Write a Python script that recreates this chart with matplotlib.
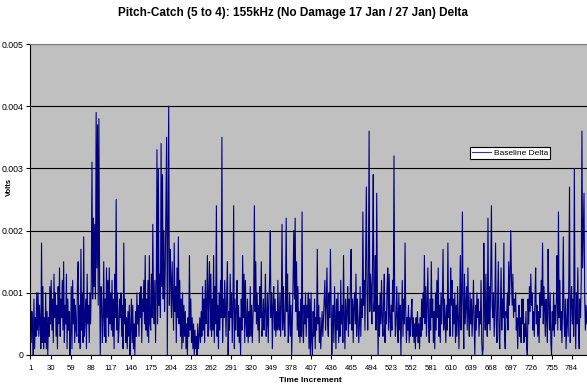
import numpy as np
import matplotlib
matplotlib.use('Agg')
from matplotlib import pyplot as plt

plt.rcParams['font.family'] = ['Liberation Sans', 'DejaVu Sans']

title = 'Pitch-Catch (5 to 4): 155kHz (No Damage 17 Jan / 27 Jan) Delta'
series_name = 'Baseline Delta'
x_title = 'Time Increment'
y_title = 'Volts'

# delta, in units of 1e-4 V, one row per 29 increments
baseline_delta_e4 = [
    8, 2, 7, 4, 0, 9, 1, 6, 3, 10, 4, 10, 3, 8, 5, 1, 18, 2, 11, 1, 6, 2, 10, 1, 7, 0, 6, 3, 11,
    5, 12, 4, 9, 2, 13, 6, 10, 3, 8, 1, 11, 5, 14, 3, 9, 6, 12, 4, 15, 2, 8, 5, 13, 1, 9, 4, 7, 0,
    3, 11, 1, 12, 5, 9, 2, 8, 4, 3, 12, 15, 2, 8, 1, 17, 4, 10, 2, 19, 3, 6, 9, 1, 13, 5, 8, 2, 10,
    5, 12, 31, 9, 22, 11, 21, 9, 39, 14, 37, 8, 38, 12, 0, 11, 9, 2, 6, 15, 3, 9, 2, 14, 6, 12, 3, 14, 5,
    10, 4, 12, 3, 9, 1, 13, 6, 25, 4, 10, 2, 4, 9, 6, 10, 3, 8, 1, 18, 5, 9, 2, 6, 1, 7, 3, 8, 0,
    4, 9, 2, 8, 1, 5, 0, 7, 3, 10, 5, 8, 3, 10, 6, 11, 2, 9, 7, 12, 5, 16, 4, 9, 3, 12, 2, 16, 5,
    4, 13, 6, 21, 9, 5, 12, 2, 10, 33, 5, 30, 8, 13, 6, 34, 11, 29, 9, 20, 7, 14, 25, 35, 0, 20, 40, 8, 17,
    12, 6, 15, 9, 4, 18, 7, 11, 2, 14, 6, 19, 5, 12, 3, 9, 1, 10, 2, 8, 3, 7, 1, 5, 0, 6, 3, 16, 4,
    9, 2, 6, 1, 5, 0, 4, 1, 3, 0, 5, 1, 3, 6, 2, 7, 3, 11, 4, 9, 2, 12, 5, 8, 16, 3, 10, 15, 4,
    13, 3, 9, 4, 16, 2, 11, 5, 24, 3, 8, 1, 10, 4, 12, 6, 35, 2, 9, 6, 12, 8, 3, 10, 15, 0, 7, 4, 13,
    6, 10, 2, 8, 24, 1, 9, 4, 7, 12, 3, 8, 2, 6, 0, 9, 4, 16, 6, 13, 2, 12, 5, 3, 9, 2, 7, 3, 11,
    3, 8, 2, 6, 10, 24, 7, 15, 5, 10, 4, 8, 2, 11, 6, 15, 3, 5, 9, 4, 7, 13, 3, 5, 10, 2, 8, 12, 20,
    6, 10, 1, 8, 11, 4, 9, 3, 7, 4, 12, 5, 4, 10, 3, 8, 21, 4, 11, 6, 3, 9, 22, 7, 13, 2, 5, 10, 3,
    8, 0, 6, 12, 20, 9, 22, 7, 15, 4, 11, 3, 7, 2, 9, 3, 23, 4, 2, 8, 5, 10, 3, 8, 6, 10, 1, 9, 0,
    10, 2, 0, 7, 3, 9, 1, 6, 4, 17, 5, 8, 2, 6, 1, 4, 7, 3, 6, 9, 12, 4, 8, 14, 5, 3, 10, 6, 17,
    8, 0, 5, 8, 2, 11, 6, 1, 9, 4, 10, 2, 7, 3, 12, 5, 8, 2, 16, 6, 1, 9, 4, 7, 11, 3, 9, 5, 12,
    17, 4, 9, 2, 8, 10, 5, 13, 3, 9, 6, 2, 5, 11, 3, 9, 6, 23, 8, 12, 4, 15, 27, 10, 4, 14, 36, 7, 13,
    11, 5, 16, 29, 7, 9, 16, 4, 26, 10, 0, 8, 3, 10, 5, 12, 6, 3, 9, 13, 2, 7, 5, 11, 14, 4, 13, 6, 3,
    8, 4, 12, 7, 32, 9, 3, 5, 11, 6, 2, 10, 4, 8, 0, 6, 12, 3, 9, 5, 18, 7, 2, 6, 4, 8, 2, 6, 3,
    7, 9, 3, 6, 2, 5, 1, 6, 3, 7, 2, 5, 1, 6, 3, 9, 4, 10, 6, 16, 5, 11, 3, 8, 14, 5, 2, 9, 4,
    15, 6, 9, 2, 7, 1, 10, 4, 12, 6, 14, 3, 8, 2, 10, 5, 9, 17, 4, 9, 6, 2, 8, 4, 18, 6, 9, 3, 14,
    8, 12, 3, 9, 5, 10, 2, 8, 3, 11, 6, 1, 9, 16, 4, 9, 23, 7, 1, 13, 5, 8, 11, 4, 14, 6, 3, 10, 5,
    9, 3, 7, 12, 5, 0, 8, 4, 10, 6, 9, 3, 7, 5, 12, 2, 0, 1, 18, 8, 4, 13, 6, 3, 22, 5, 11, 4, 13,
    24, 8, 6, 10, 3, 8, 18, 5, 2, 9, 15, 4, 1, 8, 14, 4, 9, 6, 18, 3, 1, 7, 6, 10, 4, 15, 8, 13, 20,
    12, 8, 13, 6, 9, 7, 10, 4, 6, 1, 5, 8, 3, 6, 2, 9, 5, 9, 2, 5, 3, 7, 1, 0, 9, 5, 11, 7, 13,
    8, 10, 4, 7, 3, 9, 14, 5, 8, 3, 7, 2, 10, 6, 12, 8, 18, 5, 11, 7, 3, 9, 6, 2, 17, 8, 4, 10, 2,
    0, 7, 4, 10, 3, 8, 5, 9, 16, 4, 23, 6, 12, 4, 7, 2, 8, 19, 6, 3, 9, 1, 5, 9, 3, 12, 27, 2, 8,
    11, 5, 9, 3, 30, 7, 1, 10, 5, 14, 4, 1, 9, 6, 12, 36, 14, 20, 26, 9, 4, 8, 5,
]

x_ticks = [1, 30, 59, 88, 117, 146, 175, 204, 233, 262, 291, 320, 349, 378,
           407, 436, 465, 494, 523, 552, 581, 610, 639, 668, 697, 726, 755, 784]
y_ticks = [0, 0.001, 0.002, 0.003, 0.004, 0.005]
y_tick_labels = ['0', '0.001', '0.002', '0.003', '0.004', '0.005']

volts = np.array(baseline_delta_e4) * 1e-4
t = np.arange(1, len(volts) + 1)

fig = plt.figure(figsize=(5.87, 3.90), dpi=100)
ax = fig.add_axes([30/587, 35/390, 557/587, 311/390])
ax.set_facecolor('#c0c0c0')

ax.plot(t, volts, color='#000080', lw=0.8, label=series_name)

ax.set_ylim(0, 0.005)
ax.set_xlim(0.3, 806.3)
ax.set_yticks(y_ticks)
ax.set_yticklabels(y_tick_labels)
ax.set_xticks(x_ticks)
ax.set_xticklabels([str(v) for v in x_ticks])
ax.tick_params(axis='x', labelsize=5.6, length=3, width=0.8, color='black', pad=4)
ax.tick_params(axis='y', labelsize=6.3, length=3, width=0.8, color='black', pad=1.5)
ax.yaxis.grid(True, color='black', lw=0.8)
ax.set_axisbelow(True)

ax.spines['right'].set_visible(False)
ax.spines['top'].set_color('#808080')
ax.spines['left'].set_color('black')
ax.spines['bottom'].set_color('black')

ax.set_xlabel(x_title, fontsize=6, fontweight='bold')
ax.xaxis.set_label_coords((310 - 30) / 557, -(377 - 355) / 311)
ax.set_ylabel(y_title, fontsize=5.5, fontweight='bold')
ax.yaxis.set_label_coords((13 - 30) / 557, (355 - 187) / 311)
fig.text(0.5, 1 - 13/390, title, ha='center', va='center', fontsize=8.5, fontweight='bold')

leg = ax.legend(loc='center', bbox_to_anchor=(0.862, 0.648), fontsize=6, frameon=True,
                fancybox=False, framealpha=1, edgecolor='black', handlelength=2.3,
                borderpad=0.25, handletextpad=0.3)
leg.get_frame().set_linewidth(0.8)
leg.get_lines()[0].set_color('#3333aa')

fig.savefig('out.png', dpi=100)
